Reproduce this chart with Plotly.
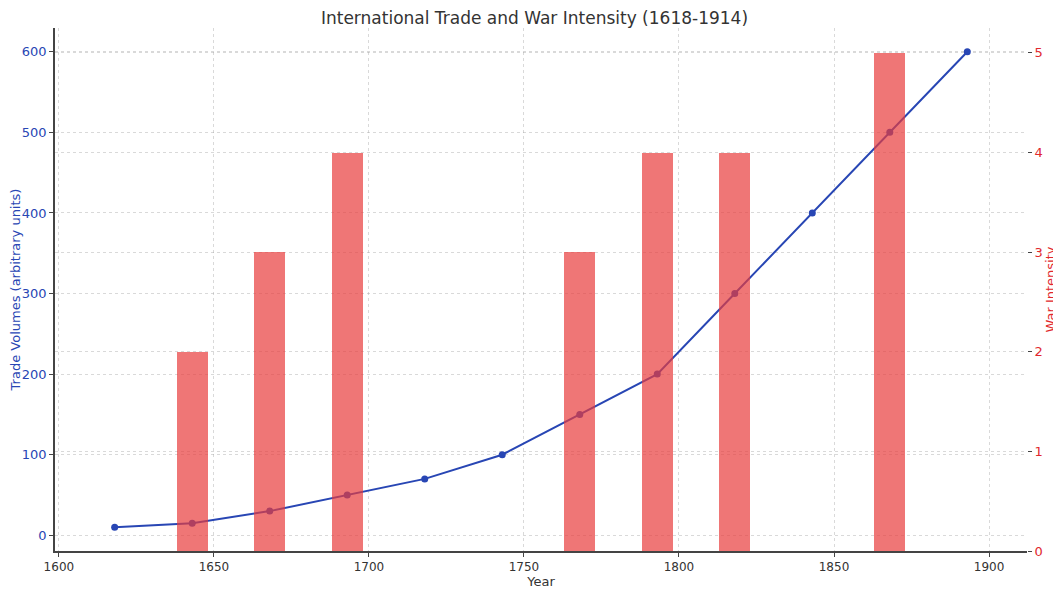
import plotly.graph_objects as go

years = [1618, 1643, 1668, 1693, 1718, 1743, 1768, 1793, 1818, 1843, 1868, 1893]
trade_volumes = [10, 15, 30, 50, 70, 100, 150, 200, 300, 400, 500, 600]
war_intensity = [0, 2, 3, 4, 0, 0, 3, 4, 4, 0, 5, 0]

blue = "rgb(40,70,180)"
red = "rgb(225,40,45)"
grid = "rgba(160,160,160,0.4)"
font = "DejaVu Sans"

fig = go.Figure()
fig.add_trace(go.Scatter(
    x=years, y=trade_volumes, mode="lines+markers",
    line=dict(color=blue, width=2), marker=dict(color=blue, size=7),
    name="Trade Volumes", yaxis="y"))
fig.add_trace(go.Bar(
    x=years, y=war_intensity, width=10,
    marker=dict(color="rgba(232,60,60,0.7)", line=dict(width=0)),
    name="War Intensity", yaxis="y2"))

# page has an 8px body margin, so the figure is sized to fit inside it
fig.update_layout(
    width=1053, height=581,
    margin=dict(l=47, r=34, t=20, b=38, autoexpand=False),
    paper_bgcolor="white", plot_bgcolor="white",
    showlegend=False,
    font=dict(family=font, size=12, color="#333"),
    title=dict(text="International Trade and War Intensity (1618-1914)",
               x=0.5, xanchor="center", y=0.983, yanchor="middle",
               pad=dict(t=0, b=0),
               font=dict(size=17, color="#333", family=font)),
    xaxis=dict(range=[1598.75, 1912.25], tickvals=[1600, 1650, 1700, 1750, 1800, 1850, 1900],
               showgrid=True, gridcolor=grid, griddash="dot", gridwidth=1,
               showline=True, linecolor="#444", linewidth=1.5,
               ticks="outside", ticklen=4, tickcolor="#444",
               title=dict(text="Year", standoff=4, font=dict(size=13)),
               automargin=False, zeroline=False),
    yaxis=dict(range=[-19.5, 629.5], tickvals=[0, 100, 200, 300, 400, 500, 600],
               showgrid=True, gridcolor=grid, griddash="dot", gridwidth=1,
               showline=True, linecolor="#444", linewidth=1.5,
               ticks="outside", ticklen=4, tickcolor="#444",
               tickfont=dict(color=blue, size=13),
               title=dict(text="Trade Volumes (arbitrary units)", standoff=12,
                          font=dict(color=blue, size=13)),
               automargin=False, zeroline=False),
    yaxis2=dict(range=[0, 5.25], tickvals=[0, 1, 2, 3, 4, 5], overlaying="y", side="right",
                showgrid=True, gridcolor=grid, griddash="dot", gridwidth=1,
                showline=False, ticks="outside", ticklen=4, tickcolor="#444",
                tickfont=dict(color=red, size=13),
                title=dict(text="War Intensity", standoff=4, font=dict(color=red, size=13)),
                automargin=False, zeroline=False),
    bargap=0,
)

fig.write_html("out.html")
